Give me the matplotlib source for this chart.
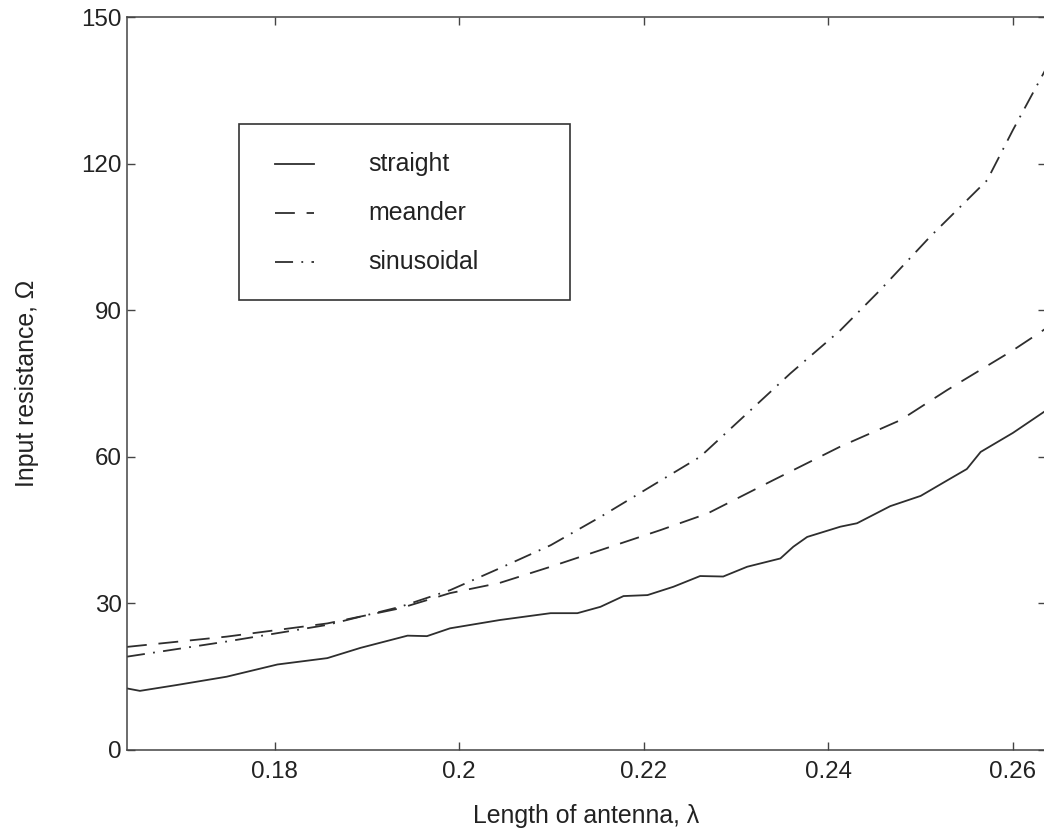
import matplotlib
matplotlib.use("Agg")
import matplotlib.pyplot as plt
from matplotlib import font_manager as fm
from matplotlib.lines import Line2D
from matplotlib.patches import Rectangle

# pick the regular (non-narrow) Liberation Sans file explicitly
reg = [f for f in fm.findSystemFonts() if f.endswith('LiberationSans-Regular.ttf')]
if reg:
    fm.fontManager.addfont(reg[0])
    fam = fm.FontProperties(fname=reg[0]).get_name()
else:
    fam = 'DejaVu Sans'
plt.rcParams['font.family'] = [fam, 'DejaVu Sans']

# ---- data ----
straight_x = [0.164, 0.1654, 0.1694, 0.1748, 0.1803, 0.1857, 0.1893, 0.1944, 0.1965,
              0.1990, 0.2044, 0.2099, 0.2128, 0.2153, 0.2178, 0.2204, 0.2232, 0.2261,
              0.2286, 0.2312, 0.2348, 0.2362, 0.2377, 0.2413, 0.2431, 0.2467, 0.2500,
              0.2529, 0.2550, 0.2565, 0.2600, 0.2636]
straight_y = [12.6, 12.1, 13.3, 15.0, 17.5, 18.8, 20.9, 23.4, 23.3,
              24.9, 26.6, 28.0, 28.0, 29.3, 31.5, 31.7, 33.4, 35.6,
              35.5, 37.5, 39.2, 41.6, 43.6, 45.7, 46.4, 49.9, 52.0,
              55.2, 57.5, 61.0, 64.9, 69.5]

meander_x = [0.164, 0.1748, 0.1857, 0.1936, 0.1990, 0.2044, 0.2099, 0.2153, 0.2218,
             0.2269, 0.2340, 0.2413, 0.2478, 0.2529, 0.2600, 0.2636]
meander_y = [21.1, 23.2, 25.9, 29.0, 32.1, 34.2, 37.5, 40.9, 45.0,
             48.4, 55.2, 62.1, 67.5, 73.7, 81.8, 86.3]

sinus_x = [0.164, 0.1748, 0.1857, 0.1936, 0.1990, 0.2044, 0.2099, 0.2153, 0.2210,
           0.2261, 0.2304, 0.2359, 0.2413, 0.2456, 0.2510, 0.2572, 0.2600, 0.2636]
sinus_y = [19.1, 22.2, 25.6, 29.3, 32.7, 37.2, 41.9, 47.7, 54.2,
           60.0, 67.5, 77.1, 85.9, 94.1, 105.0, 116.6, 126.9, 139.5]

x_ticks = [0.18, 0.2, 0.22, 0.24, 0.26]
x_tick_labels = ['0.18', '0.2', '0.22', '0.24', '0.26']
y_ticks = [0, 30, 60, 90, 120, 150]
labels = ['straight', 'meander', 'sinusoidal']

# ---- figure ----
W, H = 1044, 831
fig = plt.figure(figsize=(W / 100, H / 100), dpi=100)
ax_left, ax_right, ax_top, ax_bottom = 127, 1046.2, 17, 750
ax = fig.add_axes([ax_left / W, (H - ax_bottom) / H,
                   (ax_right - ax_left) / W, (ax_bottom - ax_top) / H])

lc = '#2e2e2e'
lw = 1.3
styles = [dict(linestyle='-'),
          dict(linestyle=(0, (11, 6.5))),
          dict(linestyle=(0, (10, 4.6, 1, 4.6)))]

ax.plot(straight_x, straight_y, color=lc, lw=lw, **styles[0])
ax.plot(meander_x, meander_y, color=lc, lw=lw, **styles[1])
ax.plot(sinus_x, sinus_y, color=lc, lw=lw, **styles[2])

ax.set_xlim(0.164, 0.2636)
ax.set_ylim(0, 150)
ax.set_xticks(x_ticks)
ax.set_xticklabels(x_tick_labels)
ax.set_yticks(y_ticks)

tc = '#222222'
ax.tick_params(direction='in', length=6, width=1, color='#444444',
               top=True, right=True, labelsize=17.4, labelcolor=tc)
ax.tick_params(axis='x', pad=8)
ax.tick_params(axis='y', pad=4)
for s in ax.spines.values():
    s.set_color('#444444')
    s.set_linewidth(1.1)

ax.set_xlabel('Length of antenna, λ', fontsize=17.9, color=tc, labelpad=15)
ax.set_ylabel('Input resistance, Ω', fontsize=17.9, color=tc, labelpad=30)

# ---- legend box (drawn in axes fraction) ----
aw = ax_right - ax_left
ah = ax_bottom - ax_top
def fx(px):
    return (px - ax_left) / aw
def fy(py):
    return (ax_bottom - py) / ah

bx0, bx1, by0, by1 = fx(239), fx(570), fy(300), fy(124)
ax.add_patch(Rectangle((bx0, by0), bx1 - bx0, by1 - by0, transform=ax.transAxes,
                       fill=True, facecolor='white', edgecolor='#333333', lw=1.2, zorder=5))
rows = [164, 213, 262]
for lab, st, ry in zip(labels, styles, rows):
    ax.add_line(Line2D([fx(275), fx(314)], [fy(ry), fy(ry)], transform=ax.transAxes,
                       color=lc, lw=lw, zorder=6, **st))
    ax.text(fx(368), fy(ry), lab, transform=ax.transAxes, fontsize=17.9, color=tc,
            va='center', ha='left', zorder=6)

fig.savefig('out.png', dpi=100)
